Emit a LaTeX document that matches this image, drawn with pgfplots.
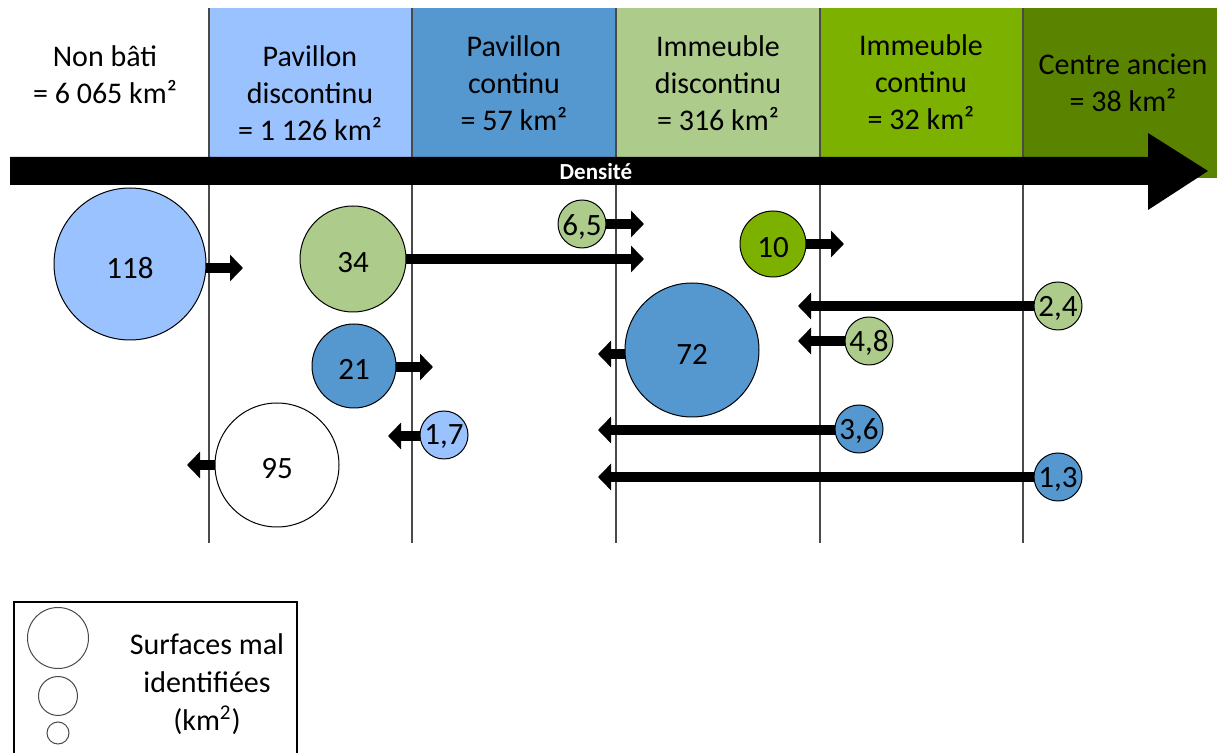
\documentclass[border=0pt]{standalone}
\usepackage{fontspec}
\setmainfont{Carlito}
\usepackage{pgfplots}
\pgfplotsset{compat=1.18}
\usepackage{pgfplotstable}
\usetikzlibrary{arrows.meta}

\definecolor{lblue}{HTML}{99C2FF}
\definecolor{mblue}{HTML}{5597CF}
\definecolor{lgreen}{HTML}{ADCB8B}
\definecolor{bgreen}{HTML}{7CB100}
\definecolor{dgreen}{HTML}{5A8400}
\definecolor{rulec}{HTML}{4A4A4A}

% circles, pixel units: centre x, centre y, radius
\pgfplotstableread{
x y r
130 264 76
444 435 24
}\lbluetab
\pgfplotstableread{
x y r
354 366 42
692 350 67
859 429 24
1058 477 24
}\mbluetab
\pgfplotstableread{
x y r
353 259 53
582 224 24
1058 306 24
869 341 24
}\lgreentab
\pgfplotstableread{
x y r
773 244 33
}\bgreentab
\pgfplotstableread{
x y r
277 465 62
}\whitetab
\pgfplotstableread{
x y r
58 638 30.5
58 696 19.5
58 733 11
}\legtab
% labels of the circles
\pgfplotstableread{
x y lab
130 268 118
444 437 1,7
354 369 21
692 354 72
859 431 3,6
1058 479 1,3
353 263 34
582 227 6,5
1058 308 2,4
869 343 4,8
773 248 10
277 469 95
}\labtab

% flows: start x, y, length (negative = to the left)
\pgfplotstableread{
x y u
130 268 113
353 259 291
582 224 62
354 367 79
444 436 -56
277 465 -90
692 354 -94
859 430 -261
1058 477 -460
773 244 71
1058 306 -260
869 341 -71
}\flowtab

\newcommand\txt{\fontsize{15}{18.5}\selectfont}

\pgfplotsset{
  bubble/.style 2 args={only marks, scatter, mark=*,
    scatter/use mapped color={draw=#1, fill=#2},
    mark options={line width=0.5pt},
    visualization depends on={\thisrow{r}\as\rad},
    scatter/@pre marker code/.append style={/tikz/mark size=0.5*\rad}},
}

\begin{document}
\begin{tikzpicture}
\begin{axis}[
    scale only axis, width=608.5pt, height=376.5pt,
    xmin=0, xmax=1217, ymin=0, ymax=753, y dir=reverse,
    hide axis,
]
% header cells
\addplot[fill=lblue, draw=none] coordinates {(209,8) (412,8) (412,157) (209,157)};
\addplot[fill=mblue, draw=none] coordinates {(412,8) (616,8) (616,157) (412,157)};
\addplot[fill=lgreen, draw=none] coordinates {(616,8) (820,8) (820,157) (616,157)};
\addplot[fill=bgreen, draw=none] coordinates {(820,8) (1023,8) (1023,157) (820,157)};
\addplot[fill=dgreen, draw=none] coordinates {(1023,8) (1217,8) (1217,178) (1023,178)};
% column rules
\pgfplotsinvokeforeach{209,412,616,820,1023}{
  \addplot[rulec, line width=0.75pt] coordinates {(#1,8) (#1,543)};
}
% density arrow
\addplot[fill=black, draw=none] coordinates {(10,157) (1148,157) (1148,133) (1208,171) (1148,210) (1148,185) (10,185)};
% flows
\addplot[black, line width=5pt, -{Triangle[width=13pt,length=6.5pt]},
  quiver={u=\thisrow{u}, v=0}] table {\flowtab};
% circles
\addplot[bubble={black}{lblue}] table {\lbluetab};
\addplot[bubble={black}{mblue}] table {\mbluetab};
\addplot[bubble={black}{lgreen}] table {\lgreentab};
\addplot[bubble={black}{bgreen}] table {\bgreentab};
\addplot[bubble={black}{white}] table {\whitetab};
\addplot[only marks, mark=none, point meta=explicit symbolic,
  nodes near coords, nodes near coords align={center},
  every node near coord/.append style={anchor=center, text=black, font=\fontsize{15.5}{18}\selectfont}]
  table[meta=lab] {\labtab};
% legend
\addplot[black, line width=0.6pt] coordinates {(14,753) (14,602) (297,602) (297,753)};
\addplot[bubble={rulec}{white}] table {\legtab};

\node[align=center, font=\txt] at (axis cs:105,75) {Non bâti\\= 6 065 km²};
\node[align=center, font=\txt] at (axis cs:310,93) {Pavillon\\discontinu\\= 1 126 km²};
\node[align=center, font=\txt] at (axis cs:514,83) {Pavillon\\continu\\= 57 km²};
\node[align=center, font=\txt] at (axis cs:718,83) {Immeuble\\discontinu\\= 316 km²};
\node[align=center, font=\txt] at (axis cs:921,82) {Immeuble\\continu\\= 32 km²};
\node[align=center, font=\txt] at (axis cs:1123,83) {Centre ancien\\= 38 km²};
\node[text=white, font=\bfseries\fontsize{11.5}{13}\selectfont] at (axis cs:596,172) {Densité};
\node[align=center, font=\fontsize{15}{19}\selectfont] at (axis cs:207,684) {Surfaces mal\\identifiées\\(km\textsuperscript{2})};
\path (rel axis cs:0,0) rectangle (rel axis cs:1,1);
\end{axis}
\end{tikzpicture}
\end{document}
